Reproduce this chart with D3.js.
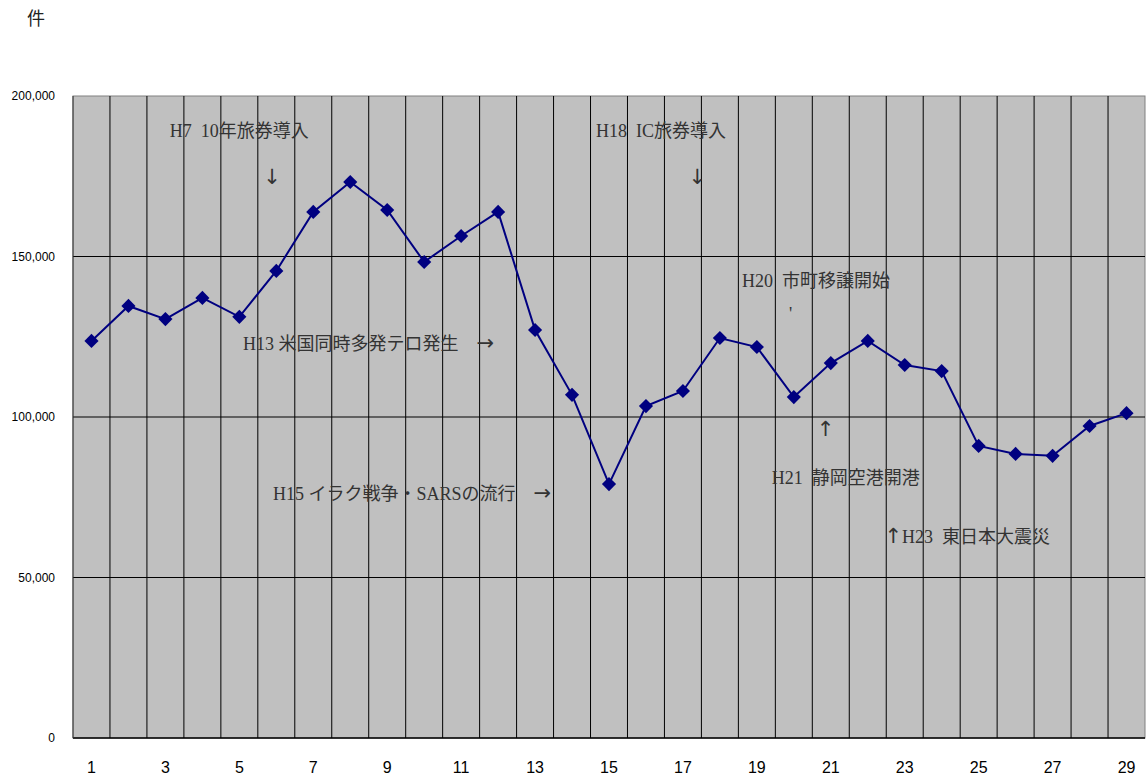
<!DOCTYPE html>
<html lang=ja>
<head>
<meta charset=utf-8>
<title>件数推移</title>
<style>
body{margin:0;background:#fff}
svg text{font-family:"Liberation Sans","Noto Sans CJK JP",sans-serif}
.note{font-family:"Liberation Serif","Noto Sans CJK JP",serif;font-size:18px;fill:#333;white-space:pre}
.arrow{font-family:"DejaVu Sans",sans-serif;font-weight:normal;font-size:21px;fill:#333}
</style>
</head>
<body>
<svg id=chart width=1146 height=781></svg>
<script src=https://d3js.org/d3.v7.min.js></script>
<script>
// 年次 (1..29)
const years = d3.range(1, 30);
const counts = [123700, 134600, 130500, 137100, 131200, 145500, 163900, 173200, 164500, 148300,
  156400, 163900, 127100, 106900, 79100, 103400, 108100, 124600, 121800, 106200,
  116800, 123700, 116200, 114300, 91000, 88500, 87900, 97200, 101200];
const yTicks = [0, 50000, 100000, 150000, 200000];
const xTickLabels = years.filter(d => d % 2 == 1);
// 注記: [text, year-position, value-position]
const notes = [
  ["H7  10年旅券導入", 3.12, 189100],
  ["↓", 5.65, 174500],
  ["H13 米国同時多発テロ発生　→", 5.1, 122700],
  ["H15 イラク戦争・SARSの流行　→", 5.91, 76000],
  ["H18  IC旅券導入", 14.65, 189100],
  ["↓", 17.15, 174500],
  ["H20  市町移譲開始", 18.6, 142400],
  ["↑", 20.62, 95900],
  ["H21  静岡空港開港", 19.4, 81000],
  ["↑H23  東日本大震災", 22.45, 62600]
];

const svg = d3.select("#chart");
const m = {left: 73, right: 1145, top: 96, bottom: 738};
const x = d3.scaleBand().domain(years).range([m.left, m.right]);
const xp = d3.scaleLinear().domain([0.5, 29.5]).range([m.left, m.right]);
const y = d3.scaleLinear().domain([0, 200000]).range([m.bottom, m.top]);

svg.append("rect").attr("x", m.left).attr("y", m.top).attr("width", m.right - m.left).attr("height", m.bottom - m.top)
  .attr("fill", "#c0c0c0").attr("stroke", "#808080");

// vertical band lines
svg.append("g").selectAll("line").data(years.slice(1)).join("line")
  .attr("x1", d => x(d)).attr("x2", d => x(d)).attr("y1", m.top).attr("y2", m.bottom)
  .attr("stroke", "#000").attr("stroke-width", 1);

// horizontal grid
svg.append("g").selectAll("line").data(yTicks.slice(1, -1)).join("line")
  .attr("x1", m.left).attr("x2", m.right).attr("y1", d => y(d)).attr("y2", d => y(d))
  .attr("stroke", "#000");

svg.append("line").attr("x1", m.left).attr("x2", m.right).attr("y1", m.bottom).attr("y2", m.bottom).attr("stroke", "#000").attr("stroke-width", 1.5);
svg.append("line").attr("x1", m.left).attr("x2", m.left).attr("y1", m.top).attr("y2", m.bottom).attr("stroke", "#333");

// axes
const yAxis = svg.append("g").attr("transform", `translate(${m.left},0)`)
  .call(d3.axisLeft(y).tickValues(yTicks).tickFormat(d3.format(",")).tickSize(0).tickPadding(18));
yAxis.select(".domain").remove();
yAxis.selectAll("text").attr("font-size", 12).attr("fill", "#000").attr("font-family", "Liberation Sans, sans-serif");

const xAxis = svg.append("g").attr("transform", `translate(0,${m.bottom})`)
  .call(d3.axisBottom(x).tickValues(xTickLabels).tickSize(0).tickPadding(24));
xAxis.select(".domain").remove();
xAxis.selectAll("text").attr("font-size", 16).attr("fill", "#000").attr("font-family", "Liberation Sans, sans-serif");

svg.append("text").attr("x", 27).attr("y", 25).attr("font-size", 18).attr("fill", "#222")
  .attr("font-family", "Noto Sans CJK JP").text("件");

// notes
svg.append("g").selectAll("text").data(notes).join("text").attr("class", "note")
  .attr("x", d => xp(d[1])).attr("y", d => y(d[2])).attr("dy", "0.35em")
  .each(function(d) {
    const t = d3.select(this);
    d[0].split(/([↓↑→])/).filter(s => s).forEach(s =>
      t.append("tspan").attr("class", /[↓↑→]/.test(s) ? "arrow" : null).text(s));
  });
svg.append("text").attr("class", "note").attr("x", xp(19.87)).attr("y", y(130200)).attr("font-size", 8).text("'");

// line and markers
const cx = d => x(d) + x.bandwidth() / 2;
svg.append("path").datum(years)
  .attr("d", d3.line().x(cx).y((d, i) => y(counts[i])))
  .attr("fill", "none").attr("stroke", "#000080").attr("stroke-width", 2);
svg.append("g").selectAll("path").data(years).join("path")
  .attr("d", d3.symbol(d3.symbolSquare, 100))
  .attr("transform", (d, i) => `translate(${cx(d)},${y(counts[i])}) rotate(45)`)
  .attr("fill", "#000080");
</script>
</body>
</html>
